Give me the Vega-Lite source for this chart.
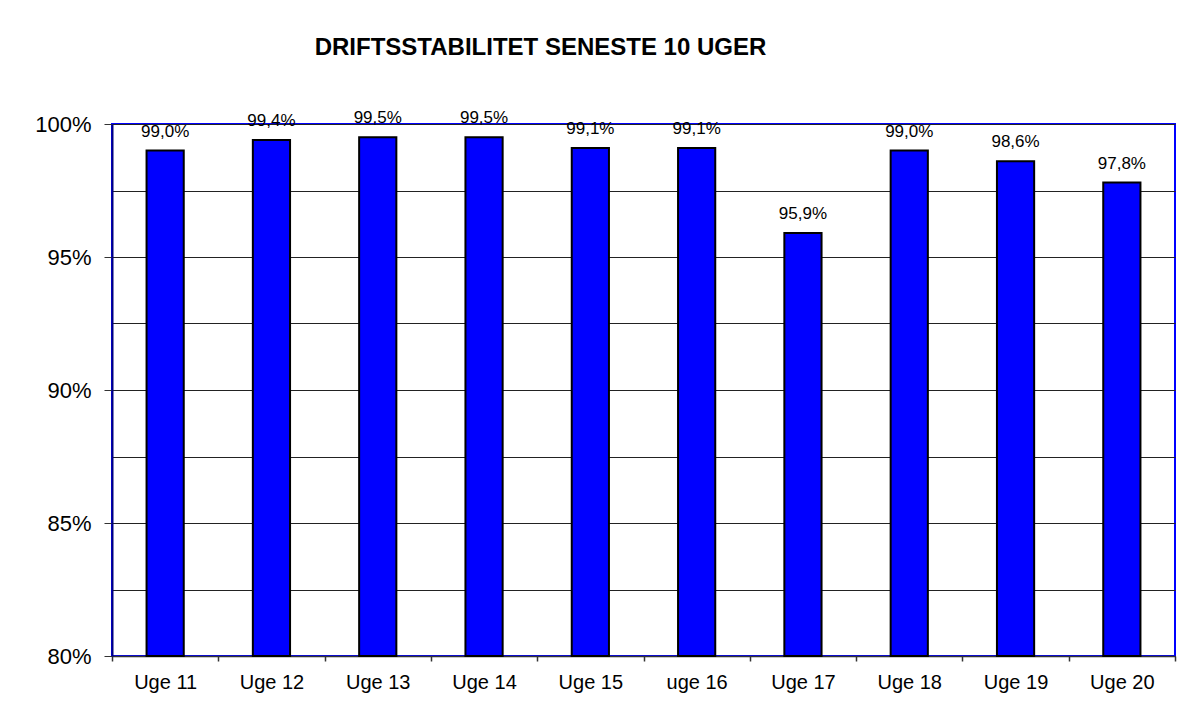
{
  "$schema": "https://vega.github.io/schema/vega-lite/v6.json",
  "width": 1063,
  "height": 532,
  "autosize": {"type": "none"},
  "padding": {"left": 112, "top": 124, "right": 3, "bottom": 55},
  "background": "white",
  "config": {
    "locale": {"number": {"decimal": ",", "thousands": ".", "grouping": [3], "currency": ["", " kr."]}},
    "font": "Liberation Sans",
    "view": {"stroke": "#0000FF", "strokeWidth": 2}
  },
  "title": {
    "text": "DRIFTSSTABILITET SENESTE 10 UGER",
    "font": "Liberation Sans",
    "fontSize": 24,
    "fontWeight": "bold",
    "color": "black",
    "anchor": "middle",
    "frame": "group",
    "dx": -103,
    "offset": 49
  },
  "data": {
    "values": [
      {"uge": "Uge 11", "stabilitet": 0.990},
      {"uge": "Uge 12", "stabilitet": 0.994},
      {"uge": "Uge 13", "stabilitet": 0.995},
      {"uge": "Uge 14", "stabilitet": 0.995},
      {"uge": "Uge 15", "stabilitet": 0.991},
      {"uge": "uge 16", "stabilitet": 0.991},
      {"uge": "Uge 17", "stabilitet": 0.959},
      {"uge": "Uge 18", "stabilitet": 0.990},
      {"uge": "Uge 19", "stabilitet": 0.986},
      {"uge": "Uge 20", "stabilitet": 0.978}
    ]
  },
  "encoding": {
    "x": {
      "field": "uge",
      "type": "nominal",
      "sort": null,
      "scale": {"paddingInner": 0, "paddingOuter": 0},
      "axis": {
        "title": null,
        "labelAngle": 0,
        "labelFont": "Liberation Sans",
        "labelFontSize": 20,
        "labelColor": "black",
        "labelPadding": 11,
        "ticks": true,
        "tickBand": "extent",
        "tickSize": 5,
        "tickWidth": 1.5,
        "tickColor": "#333333",
        "domainColor": "#333333",
        "domainWidth": 1.5,
        "grid": false
      }
    },
    "y": {
      "field": "stabilitet",
      "type": "quantitative",
      "scale": {"domain": [0.8, 1.0], "nice": false, "zero": false},
      "axis": {
        "title": null,
        "values": [0.8, 0.825, 0.85, 0.875, 0.9, 0.925, 0.95, 0.975, 1.0],
        "format": ".0%",
        "labelExpr": "round(datum.value * 1000) % 50 === 0 ? datum.label : ''",
        "labelFont": "Liberation Sans",
        "labelFontSize": 22,
        "labelColor": "black",
        "labelPadding": 13,
        "tickSize": 8,
        "tickColor": {"condition": {"test": "round(datum.value * 1000) % 50 === 0", "value": "#333333"}, "value": "transparent"},
        "domainColor": "#000080",
        "domainWidth": 2,
        "grid": true,
        "gridColor": "#222222",
        "gridWidth": 1
      }
    }
  },
  "layer": [
    {
      "mark": {"type": "bar", "color": "#0000FF", "stroke": "black", "strokeWidth": 2, "width": {"band": 0.35}},
      "encoding": {"y2": {"datum": 0.8}}
    },
    {
      "mark": {"type": "text", "fontSize": 17, "font": "Liberation Sans", "color": "black", "baseline": "middle", "dy": -19},
      "encoding": {"text": {"field": "stabilitet", "type": "quantitative", "format": ".1%"}}
    }
  ]
}
